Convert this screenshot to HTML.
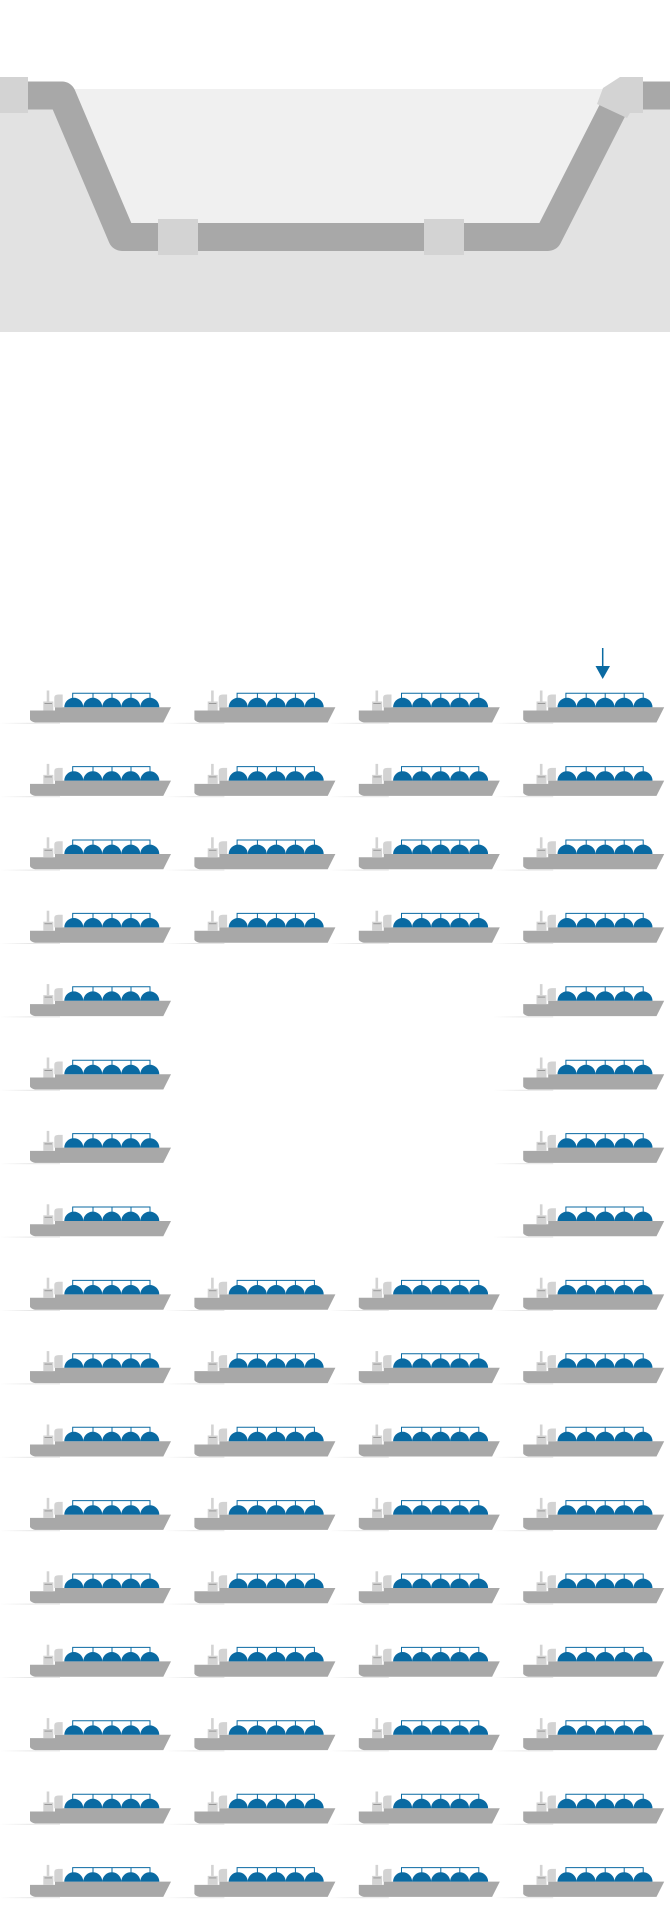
<!DOCTYPE html>
<html><head><meta charset="utf-8"><style>html,body{margin:0;padding:0;background:#fff}svg{display:block}</style></head>
<body>
<svg width="670" height="1918" viewBox="0 0 670 1918" xmlns="http://www.w3.org/2000/svg">
<defs>
<linearGradient id="wl" x1="0" y1="0" x2="1" y2="0">
<stop offset="0" stop-color="#e6e6e6" stop-opacity="0"/>
<stop offset="0.5" stop-color="#e6e6e6" stop-opacity="1"/>
<stop offset="1" stop-color="#e6e6e6" stop-opacity="1"/>
</linearGradient>
<g id="ship">
<rect x="-30" y="0.3" width="60" height="1" fill="url(#wl)"/>
<path d="M0,-12 L25,-12 L25,-15.3 L141,-15.3 L133.3,0 L5,0 Q1,-1 0,-3 Z" fill="#a8a8a8"/>
<rect x="13.3" y="-21" width="10" height="9" fill="#d3d3d3"/>
<rect x="14.5" y="-19.5" width="7.5" height="1" fill="#9a9a9a"/>
<rect x="16.7" y="-32" width="2.6" height="11" fill="#d3d3d3"/>
<path d="M24.3,-15.3 L24.3,-25 Q24.3,-28 28.5,-28 L32.7,-28 L32.7,-15.3 Z" fill="#d3d3d3"/>
<path d="M34.3,-15.3 a9.5,9.4 0 0 1 19,0 a9.5,9.4 0 0 1 19,0 a9.5,9.4 0 0 1 19,0 a9.5,9.4 0 0 1 19,0 a9.5,9.4 0 0 1 19,0 Z" fill="#0a6aa2"/>
<g stroke="#0a6aa2" stroke-width="1" fill="none">
<path d="M42.7,-24 L42.7,-29.3 L120,-29.3 L120,-24"/>
<path d="M63,-29.3 L63,-24 M82,-29.3 L82,-24 M101,-29.3 L101,-24"/>
</g>
</g>
</defs>
<rect x="0" y="89" width="670" height="243" fill="#e2e2e2"/>
<polygon points="62,89 625,89 548,237 122,237" fill="#f0f0f0"/>
<polyline points="0,95.5 62,95.5 122,237 548,237 620,95.5 670,95.5" fill="none" stroke="#a8a8a8" stroke-width="28" stroke-linejoin="round"/>
<rect x="0" y="77" width="28" height="36" fill="#d3d3d3"/>
<rect x="158" y="219" width="40" height="36" fill="#d3d3d3"/>
<rect x="424" y="219" width="40" height="36" fill="#d3d3d3"/>
<polygon points="620,77 643,77 643,113 630,113 627,118 597,104 603,88" fill="#d3d3d3"/>
<line x1="602.7" y1="648" x2="602.7" y2="667" stroke="#0a6aa2" stroke-width="1.5"/>
<polygon points="595.5,666 610,666 602.7,679" fill="#0a6aa2"/>
<use href="#ship" x="30" y="722.5"/><use href="#ship" x="194.4" y="722.5"/><use href="#ship" x="358.8" y="722.5"/><use href="#ship" x="523.2" y="722.5"/>
<use href="#ship" x="30" y="795.9"/><use href="#ship" x="194.4" y="795.9"/><use href="#ship" x="358.8" y="795.9"/><use href="#ship" x="523.2" y="795.9"/>
<use href="#ship" x="30" y="869.3"/><use href="#ship" x="194.4" y="869.3"/><use href="#ship" x="358.8" y="869.3"/><use href="#ship" x="523.2" y="869.3"/>
<use href="#ship" x="30" y="942.7"/><use href="#ship" x="194.4" y="942.7"/><use href="#ship" x="358.8" y="942.7"/><use href="#ship" x="523.2" y="942.7"/>
<use href="#ship" x="30" y="1016.1"/><use href="#ship" x="523.2" y="1016.1"/>
<use href="#ship" x="30" y="1089.5"/><use href="#ship" x="523.2" y="1089.5"/>
<use href="#ship" x="30" y="1162.9"/><use href="#ship" x="523.2" y="1162.9"/>
<use href="#ship" x="30" y="1236.3"/><use href="#ship" x="523.2" y="1236.3"/>
<use href="#ship" x="30" y="1309.7"/><use href="#ship" x="194.4" y="1309.7"/><use href="#ship" x="358.8" y="1309.7"/><use href="#ship" x="523.2" y="1309.7"/>
<use href="#ship" x="30" y="1383.1"/><use href="#ship" x="194.4" y="1383.1"/><use href="#ship" x="358.8" y="1383.1"/><use href="#ship" x="523.2" y="1383.1"/>
<use href="#ship" x="30" y="1456.5"/><use href="#ship" x="194.4" y="1456.5"/><use href="#ship" x="358.8" y="1456.5"/><use href="#ship" x="523.2" y="1456.5"/>
<use href="#ship" x="30" y="1529.9"/><use href="#ship" x="194.4" y="1529.9"/><use href="#ship" x="358.8" y="1529.9"/><use href="#ship" x="523.2" y="1529.9"/>
<use href="#ship" x="30" y="1603.3"/><use href="#ship" x="194.4" y="1603.3"/><use href="#ship" x="358.8" y="1603.3"/><use href="#ship" x="523.2" y="1603.3"/>
<use href="#ship" x="30" y="1676.7"/><use href="#ship" x="194.4" y="1676.7"/><use href="#ship" x="358.8" y="1676.7"/><use href="#ship" x="523.2" y="1676.7"/>
<use href="#ship" x="30" y="1750.1"/><use href="#ship" x="194.4" y="1750.1"/><use href="#ship" x="358.8" y="1750.1"/><use href="#ship" x="523.2" y="1750.1"/>
<use href="#ship" x="30" y="1823.5"/><use href="#ship" x="194.4" y="1823.5"/><use href="#ship" x="358.8" y="1823.5"/><use href="#ship" x="523.2" y="1823.5"/>
<use href="#ship" x="30" y="1896.9"/><use href="#ship" x="194.4" y="1896.9"/><use href="#ship" x="358.8" y="1896.9"/><use href="#ship" x="523.2" y="1896.9"/>
</svg>
</body></html>
